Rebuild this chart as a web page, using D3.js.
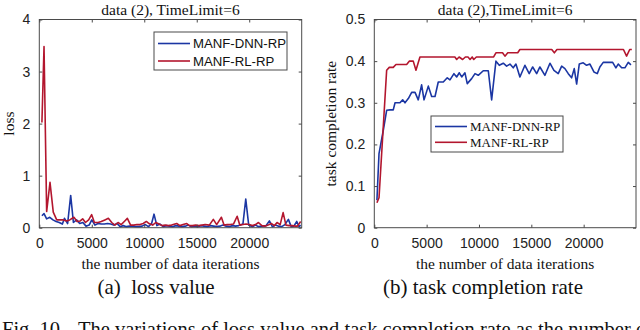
<!DOCTYPE html>
<html><head><meta charset="utf-8">
<script src="https://cdn.jsdelivr.net/npm/d3@7"></script>
<style>body{margin:0;background:#fff}svg{display:block}</style>
</head><body>
<svg id="c" width="640" height="330"></svg>
<script>
// ---- data ----
const seriesNames = ["MANF-DNN-RP", "MANF-RL-RP"];
const xTicks = [0, 5000, 10000, 15000, 20000];
const lossTicks = [0, 1, 2, 3, 4];
const rateTicks = [0, 0.1, 0.2, 0.3, 0.4, 0.5];

const dnnLoss = [[250,0.23],[450,0.27],[700,0.17],[1000,0.2],[1300,0.15],[1600,0.12],[1900,0.1],[2200,0.07],[2400,0.18],[2700,0.08],[2990,0.62],[3250,0.1],[3550,0.15],[3850,0.08],[4150,0.1],[4450,0.03],[4750,0.05],[5000,0.15],[5300,0.05],[5600,0.08],[5900,0.07],[6200,0.07],[6500,0.08],[6800,0.07],[7100,0.05],[7400,0.08],[7700,0.02],[8000,0.04],[8300,0.02],[8600,0.03],[8900,0.03],[9200,0.02],[9500,0.02],[9800,0.03],[10100,0.06],[10400,0.02],[10700,0.08],[10930,0.26],[11200,0.04],[11500,0.07],[11800,0.02],[12100,0.04],[12400,0.03],[12700,0.02],[13000,0.04],[13300,0.03],[13600,0.02],[13900,0.03],[14200,0.05],[14500,0.02],[14800,0.03],[15100,0.02],[15400,0.04],[15700,0.03],[16000,0.02],[16300,0.04],[16600,0.03],[16900,0.02],[17200,0.03],[17500,0.05],[17800,0.03],[18100,0.02],[18400,0.04],[18700,0.03],[19000,0.04],[19400,0.07],[19670,0.55],[19950,0.05],[20300,0.02],[20600,0.05],[20900,0.02],[21200,0.03],[21600,0.04],[21920,0.13],[22200,0.02],[22500,0.05],[22800,0.03],[23100,0.02],[23400,0.06],[23730,0.16],[24000,0.02],[24250,0.03],[24530,0.12],[24750,0.02],[24900,0.05]];
const rlLoss = [[250,2.02],[450,3.48],[700,0.31],[1020,0.87],[1330,0.3],[1660,0.15],[2000,0.15],[2300,0.15],[2600,0.13],[2900,0.15],[3300,0.2],[3600,0.12],[3900,0.13],[4130,0.17],[4400,0.1],[4700,0.15],[4990,0.25],[5250,0.1],[5600,0.1],[5900,0.12],[6250,0.15],[6580,0.18],[6900,0.1],[7200,0.05],[7500,0.1],[7800,0.06],[8100,0.12],[8390,0.18],[8700,0.05],[9000,0.05],[9300,0.06],[9600,0.06],[9900,0.08],[10200,0.12],[10450,0.08],[10800,0.05],[11100,0.1],[11400,0.07],[11700,0.04],[12000,0.05],[12300,0.04],[12600,0.05],[13090,0.08],[13400,0.04],[13700,0.06],[14050,0.08],[14300,0.04],[14600,0.04],[14900,0.05],[15200,0.04],[15500,0.05],[15800,0.06],[16200,0.05],[16580,0.16],[16900,0.06],[17350,0.2],[17600,0.05],[17900,0.06],[18200,0.06],[18500,0.07],[18850,0.22],[19100,0.05],[19400,0.06],[19700,0.07],[20000,0.06],[20300,0.04],[20600,0.06],[20880,0.1],[21200,0.04],[21500,0.03],[21800,0.05],[22100,0.08],[22400,0.04],[22650,0.1],[22950,0.06],[23230,0.29],[23500,0.05],[23800,0.04],[24100,0.04],[24400,0.03],[24600,0.03],[24900,0.12]];

const dnnRate = [[250,0.066],[450,0.178],[860,0.234],[1180,0.282],[1500,0.283],[1810,0.283],[1980,0.30],[2450,0.30],[2710,0.307],[2930,0.30],[3250,0.31],[3570,0.325],[3890,0.325],[4200,0.307],[4520,0.343],[4750,0.307],[5160,0.34],[5480,0.315],[5800,0.315],[6110,0.35],[6590,0.35],[6970,0.36],[7230,0.355],[7610,0.37],[7870,0.362],[8120,0.372],[8350,0.362],[8660,0.372],[8880,0.346],[9300,0.358],[9620,0.37],[9930,0.366],[10410,0.377],[10890,0.377],[11210,0.307],[11620,0.40],[11940,0.39],[12320,0.395],[12640,0.388],[12960,0.393],[13270,0.384],[13530,0.393],[13910,0.362],[14390,0.39],[14800,0.37],[15130,0.386],[15510,0.37],[15820,0.386],[16300,0.366],[16780,0.395],[17160,0.378],[17570,0.37],[17900,0.388],[18210,0.382],[18530,0.37],[18850,0.36],[19100,0.382],[19330,0.345],[19580,0.393],[19960,0.396],[20280,0.39],[20600,0.393],[20980,0.374],[21300,0.37],[21550,0.386],[21870,0.397],[22350,0.397],[22770,0.397],[23080,0.384],[23300,0.393],[23630,0.384],[23940,0.384],[24260,0.397],[24520,0.391]];
const rlRate = [[250,0.06],[450,0.072],[1180,0.378],[1430,0.385],[1810,0.385],[2070,0.392],[3090,0.392],[3340,0.40],[3720,0.40],[3980,0.378],[4360,0.41],[7700,0.41],[7870,0.404],[8100,0.41],[8440,0.404],[8700,0.41],[8950,0.41],[9150,0.404],[9350,0.41],[9500,0.404],[9750,0.41],[11400,0.41],[11620,0.42],[12250,0.42],[12480,0.412],[12750,0.42],[13700,0.42],[13910,0.428],[16950,0.428],[17200,0.42],[17450,0.428],[23800,0.428],[24100,0.412],[24400,0.428],[24600,0.428]];

// ---- drawing ----
const svg = d3.select("#c");
const blue = "#1b36a3", red = "#b3162e";
const axisCol = "#4a4a4a";
const yTop = 19.5, yBot = 227.7;
const serif = "'Liberation Serif', 'Times New Roman', serif";
const sans = "'Liberation Sans', Arial, sans-serif";

function panel(opts) {
  const x = d3.scaleLinear().domain([0, 25000]).range([opts.x0, opts.x1]);
  const y = d3.scaleLinear().domain(opts.ydom).range([yBot, yTop]);
  const g = svg.append("g");
  const tl = 3;
  const axB = d3.axisBottom(x).tickValues(xTicks).tickSizeInner(-tl).tickSizeOuter(0).tickPadding(10).tickFormat(d3.format("d"));
  const axL = d3.axisLeft(y).tickValues(opts.yticks).tickSizeInner(-tl).tickSizeOuter(0).tickPadding(9).tickFormat(opts.yfmt);
  const axT = d3.axisTop(x).tickValues(xTicks).tickSizeInner(-tl).tickSizeOuter(0).tickFormat("");
  const axR = d3.axisRight(y).tickValues(opts.yticks).tickSizeInner(-tl).tickSizeOuter(0).tickFormat("");
  const style = sel => {
    sel.selectAll("path").remove();
    sel.selectAll("line").attr("stroke", axisCol);
    sel.selectAll("text").attr("fill", "#222").style("font-family", sans).style("font-size", "14px");
  };

  const cid = "clip" + opts.id;
  svg.append("clipPath").attr("id", cid).append("rect")
    .attr("x", opts.x0).attr("y", yTop).attr("width", opts.x1 - opts.x0).attr("height", yBot - yTop);
  const line = d3.line().x(d => x(d[0])).y(d => y(d[1]));
  const lg = g.append("g").attr("clip-path", `url(#${cid})`);
  opts.series.forEach(s => {
    lg.append("path").datum(s.data).attr("d", line).attr("fill", "none")
      .attr("stroke", s.color).attr("stroke-width", 1.6).attr("stroke-linejoin", "round");
  });

  g.append("g").attr("transform", `translate(0,${yBot})`).call(axB).call(style);
  g.append("g").attr("transform", `translate(${opts.x0},0)`).call(axL).call(style);
  g.append("g").attr("transform", `translate(0,${yTop})`).call(axT).call(style);
  g.append("g").attr("transform", `translate(${opts.x1},0)`).call(axR).call(style);

  g.append("rect").attr("x", opts.x0).attr("y", yTop).attr("width", opts.x1 - opts.x0).attr("height", yBot - yTop)
    .attr("fill", "none").attr("stroke", axisCol).attr("stroke-width", 1);

  g.append("text").attr("x", (opts.x0 + opts.x1) / 2).attr("y", 14.5).attr("text-anchor", "middle")
    .style("font-family", serif).style("font-size", "15.5px").attr("fill", "#111").text(opts.title);
  g.append("text").attr("x", (opts.x0 + opts.x1) / 2).attr("y", 269).attr("text-anchor", "middle")
    .style("font-family", serif).style("font-size", "15.5px").attr("fill", "#111").text("the number of data iterations");
  g.append("text").attr("transform", `translate(${opts.ylx},${(yTop + yBot) / 2}) rotate(-90)`).attr("text-anchor", "middle")
    .style("font-family", serif).style("font-size", "15.5px").attr("fill", "#111").text(opts.ylabel);
  g.append("text").attr("x", opts.capx).attr("y", 294).attr("text-anchor", "middle")
    .style("font-family", serif).style("font-size", "21px").attr("fill", "#111")
    .style("white-space", "pre").text(opts.caption);

  const L = opts.legend;
  const lgd = g.append("g");
  lgd.append("rect").attr("x", L.x).attr("y", L.y).attr("width", L.w).attr("height", L.h)
    .attr("fill", "#fff").attr("stroke", axisCol).attr("stroke-width", 1);
  opts.series.forEach((s, i) => {
    const cy = L.y + L.r0 + i * L.dr;
    lgd.append("line").attr("x1", L.x + 4).attr("x2", L.x + 36).attr("y1", cy).attr("y2", cy)
      .attr("stroke", s.color).attr("stroke-width", 1.6);
    lgd.append("text").attr("x", L.x + 39).attr("y", cy).attr("dy", "0.35em")
      .style("font-family", L.font).style("font-size", L.fs).attr("fill", "#111").text(s.name);
  });
}

panel({
  id: "a", x0: 39.3, x1: 301.7, ydom: [0, 4], yticks: lossTicks, yfmt: d3.format("d"),
  title: "data (2), TimeLimit=6", ylabel: "loss", ylx: 14, caption: "(a)  loss value", capx: 156,
  series: [{name: seriesNames[0], data: dnnLoss, color: blue}, {name: seriesNames[1], data: rlLoss, color: red}],
  legend: {x: 154, y: 32, w: 133, h: 38, r0: 11.5, dr: 17.5, font: sans, fs: "13.2px"}
});
panel({
  id: "b", x0: 374.3, x1: 636, ydom: [0, 0.5], yticks: rateTicks, yfmt: d => d === 0 ? "0" : d3.format(".1f")(d),
  title: "data (2),TimeLimit=6", ylabel: "task completion rate", ylx: 336, caption: "(b) task completion rate", capx: 483,
  series: [{name: seriesNames[0], data: dnnRate, color: blue}, {name: seriesNames[1], data: rlRate, color: red}],
  legend: {x: 431, y: 116, w: 132, h: 36, r0: 10.5, dr: 15.8, font: serif, fs: "13px"}
});

// figure caption, cut off at the bottom edge as in the reference
svg.append("text").attr("x", 2).attr("y", 336)
  .style("font-family", serif).style("font-size", "20.5px").attr("fill", "#111").text("Fig. 10.");
svg.append("text").attr("x", 78).attr("y", 336)
  .style("font-family", serif).style("font-size", "20.5px").attr("fill", "#111")
  .text("The variations of loss value and task completion rate as the number of data iterations");
</script>
</body></html>
